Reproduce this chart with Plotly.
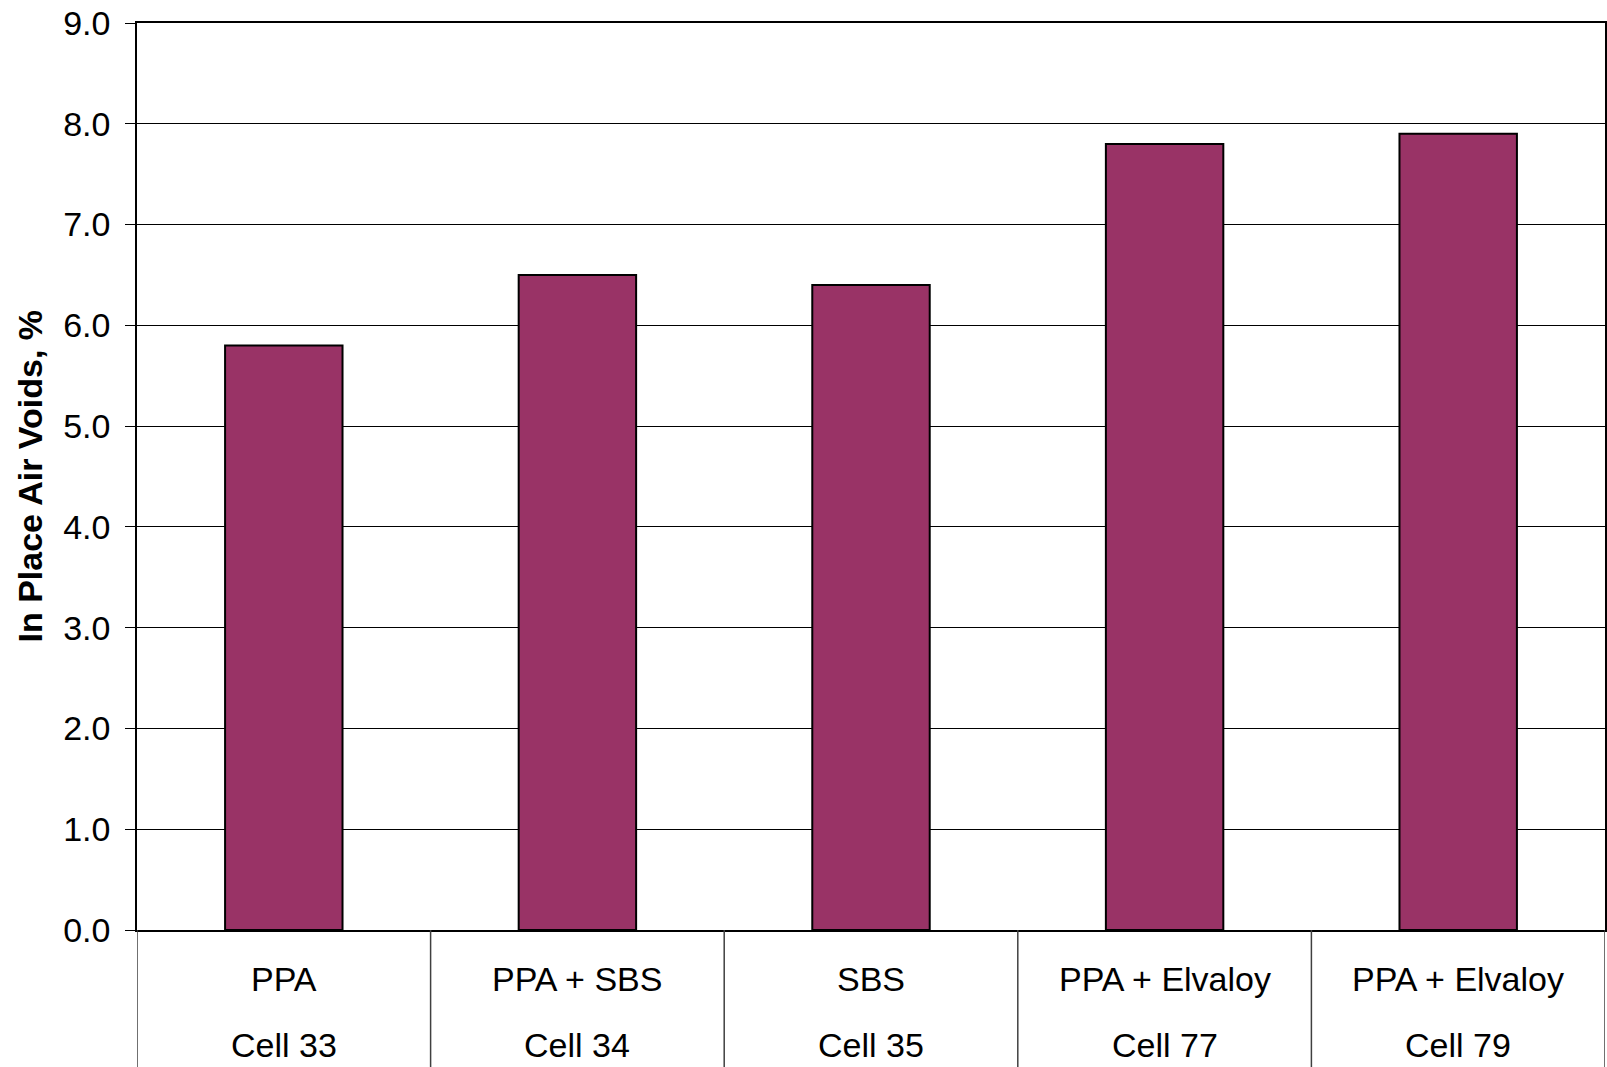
import plotly.graph_objects as go

binders = ["PPA", "PPA + SBS", "SBS", "PPA + Elvaloy", "PPA + Elvaloy"]
cells = ["Cell 33", "Cell 34", "Cell 35", "Cell 77", "Cell 79"]
air_voids = [5.8, 6.5, 6.4, 7.8, 7.9]
y_ticks = [0, 1, 2, 3, 4, 5, 6, 7, 8, 9]

W, H = 1607, 1067
ml, mr, mt, mb = 137, 2, 23, 137
ph = H - mt - mb
FONT = "Liberation Sans, Arial, sans-serif"
FS = 34

x = list(range(len(cells)))
fig = go.Figure()
fig.add_trace(go.Bar(
    x=x, y=air_voids, width=0.4,
    marker=dict(color="#993366", line=dict(color="#000000", width=2)),
    showlegend=False, hoverinfo="y",
))

shapes = []
for i in range(len(cells) + 1):
    shapes.append(dict(type="line", xref="x", yref="paper",
                       x0=i - 0.5, x1=i - 0.5, y0=0, y1=-mb / ph,
                       line=dict(color="#404040", width=1.5)))

annotations = []
for i, (b, c) in enumerate(zip(binders, cells)):
    annotations.append(dict(x=i, y=-49 / ph, xref="x", yref="paper", text=b,
                            showarrow=False, xanchor="center", yanchor="middle",
                            font=dict(family=FONT, size=FS, color="#000")))
    annotations.append(dict(x=i, y=-115 / ph, xref="x", yref="paper", text=c,
                            showarrow=False, xanchor="center", yanchor="middle",
                            font=dict(family=FONT, size=FS, color="#000")))
annotations.append(dict(x=(29 - ml) / (W - ml - mr), y=0.5, xref="paper", yref="paper",
                        text="<b>In Place Air Voids, %</b>", textangle=-90,
                        showarrow=False, xanchor="center", yanchor="middle",
                        font=dict(family=FONT, size=FS, color="#000")))

fig.update_layout(
    width=W, height=H,
    margin=dict(l=ml, r=mr, t=mt, b=mb, pad=0, autoexpand=False),
    paper_bgcolor="white", plot_bgcolor="white",
    bargap=0.6,
    shapes=shapes, annotations=annotations,
    xaxis=dict(range=[-0.5, len(cells) - 0.5], showticklabels=False, showgrid=False,
               zeroline=False, showline=True, linecolor="#000", linewidth=1.5,
               mirror=True, ticks=""),
    yaxis=dict(range=[0, 9], tickvals=y_ticks, tickformat=".1f",
               ticks="outside", ticklen=10, tickcolor="#000", tickwidth=1.2,
               showgrid=True, gridcolor="#000", gridwidth=1,
               zeroline=False, showline=True, linecolor="#000", linewidth=1.5,
               mirror=True, ticklabelstandoff=8,
               tickfont=dict(family=FONT, size=FS, color="#000")),
)
fig.write_html("out.html", config={"displayModeBar": False},
               post_script="document.body.style.margin='0';document.body.style.overflow='hidden';")
